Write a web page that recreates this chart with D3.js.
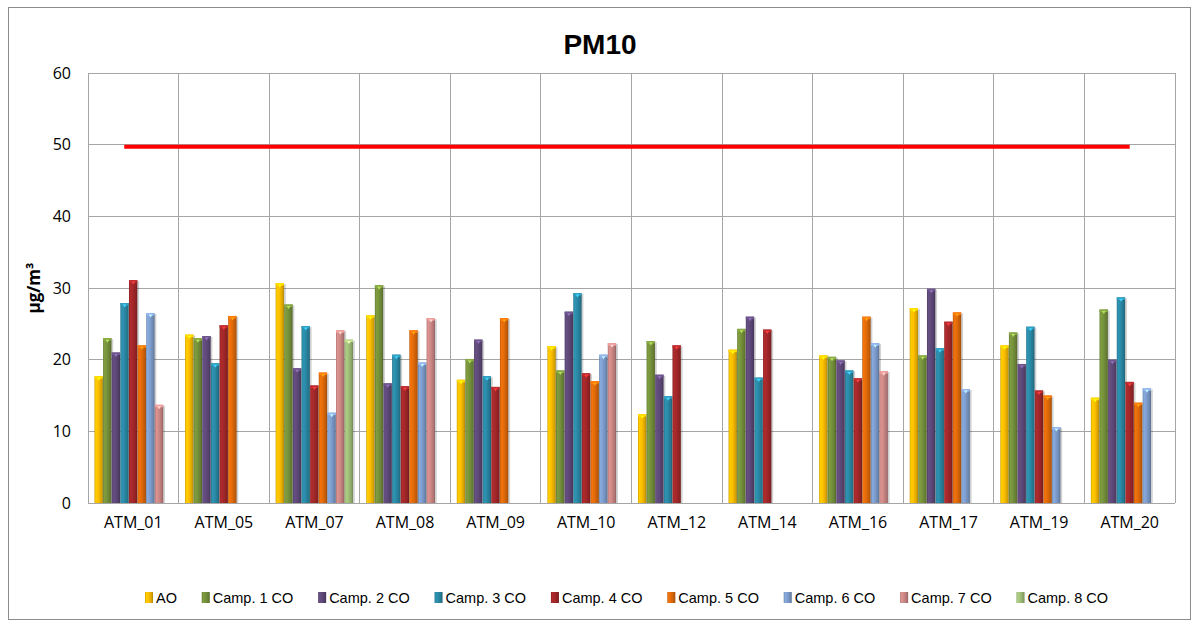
<!DOCTYPE html>
<html>
<head>
<meta charset="utf-8">
<script src="https://cdn.jsdelivr.net/npm/d3@7"></script>
<style>
  html, body { margin: 0; padding: 0; background: #fff; }
  svg { display: block; font-family: "Liberation Sans", Arial, sans-serif; }
</style>
</head>
<body>
<svg id="chart" width="1200" height="626"></svg>
<script>
const categories = ["ATM_01","ATM_05","ATM_07","ATM_08","ATM_09","ATM_10","ATM_12","ATM_14","ATM_16","ATM_17","ATM_19","ATM_20"];
const seriesNames = ["AO","Camp. 1 CO","Camp. 2 CO","Camp. 3 CO","Camp. 4 CO","Camp. 5 CO","Camp. 6 CO","Camp. 7 CO","Camp. 8 CO"];
const seriesColors = ["#FFC000","#77933C","#604A7B","#2B8BA8","#A5282A","#E46C0A","#7F9FD0","#D08A88","#A2C27A"];
// values per series, one per category (null = no bar)
const AO    = [17.7, 23.5, 30.7, 26.2, 17.2, 21.9, 12.4, 21.4, 20.6, 27.2, 22.0, 14.7];
const camp1 = [23.0, 23.0, 27.7, 30.4, 20.1, 18.5, 22.6, 24.3, 20.4, 20.6, 23.8, 27.0];
const camp2 = [21.0, 23.3, 18.8, 16.7, 22.8, 26.7, 17.9, 26.0, 19.9, 29.9, 19.4, 20.0];
const camp3 = [27.9, 19.5, 24.7, 20.7, 17.7, 29.3, 14.9, 17.5, 18.5, 21.6, 24.6, 28.7];
const camp4 = [31.1, 24.8, 16.4, 16.3, 16.2, 18.1, 22.0, 24.2, 17.4, 25.3, 15.7, 16.9];
const camp5 = [22.0, 26.1, 18.2, 24.1, 25.8, 17.0, null, null, 26.0, 26.6, 15.0, 14.0];
const camp6 = [26.5, null, 12.6, 19.6, null, 20.7, null, null, 22.3, 15.9, 10.6, 16.0];
const camp7 = [13.7, null, 24.1, 25.8, null, 22.3, null, null, 18.4, null, null, null];
const camp8 = [null, null, 22.8, null, null, null, null, null, null, null, null, null];
const seriesValues = [AO, camp1, camp2, camp3, camp4, camp5, camp6, camp7, camp8];
const yTicks = [0, 10, 20, 30, 40, 50, 60];
const limitValue = 49.7;

const svg = d3.select("#chart");
const margin = {left: 88, right: 25, top: 73, bottom: 123};
const W = 1200, H = 626;
const pw = W - margin.left - margin.right;
const ph = H - margin.top - margin.bottom;

// outer frame
svg.append("rect").attr("x", 8.5).attr("y", 7.5).attr("width", 1182).attr("height", 612)
  .attr("fill", "#fff").attr("stroke", "#8c8c8c").attr("stroke-width", 1);

const g = svg.append("g").attr("transform", `translate(${margin.left},${margin.top})`);

const x = d3.scaleBand().domain(categories).range([0, pw]).paddingInner(0).paddingOuter(0);
const xs = d3.scaleBand().domain(seriesNames).range([0, x.bandwidth()]).paddingOuter(0.75).paddingInner(0);
const y = d3.scaleLinear().domain([0, 60]).range([ph, 0]);

// gradients
const defs = svg.append("defs");
seriesColors.forEach((c, i) => {
  const base = d3.color(c);
  const grad = defs.append("linearGradient").attr("id", "grad" + i)
    .attr("x1", "0%").attr("x2", "100%").attr("y1", "0%").attr("y2", "0%");
  grad.append("stop").attr("offset", "0%").attr("stop-color", base.darker(0.6));
  grad.append("stop").attr("offset", "15%").attr("stop-color", base.brighter(0.2));
  grad.append("stop").attr("offset", "45%").attr("stop-color", base);
  grad.append("stop").attr("offset", "85%").attr("stop-color", base.darker(0.5));
  grad.append("stop").attr("offset", "100%").attr("stop-color", base.darker(1.1));
});

// gridlines
g.append("g").selectAll("line").data(yTicks).join("line")
  .attr("x1", 0).attr("x2", pw).attr("y1", d => y(d)).attr("y2", d => y(d))
  .attr("stroke", "#a6a6a6").attr("stroke-width", 1).attr("shape-rendering", "crispEdges");
const vlines = categories.map(c => x(c)).concat([pw]);
g.append("g").selectAll("line").data(vlines).join("line")
  .attr("x1", d => d).attr("x2", d => d).attr("y1", 0).attr("y2", ph)
  .attr("stroke", "#a6a6a6").attr("stroke-width", 1).attr("shape-rendering", "crispEdges");

// bars
const barData = [];
seriesValues.forEach((arr, si) => {
  arr.forEach((v, ci) => {
    if (v != null) barData.push({s: si, c: categories[ci], v});
  });
});
const bw = xs.bandwidth();
const bars = g.append("g").selectAll("g").data(barData).join("g")
  .attr("transform", d => `translate(${x(d.c) + xs(seriesNames[d.s])},0)`);
bars.append("rect")
  .attr("x", 1.5).attr("y", d => y(d.v) + 1).attr("width", bw).attr("height", d => ph - y(d.v) - 1)
  .attr("fill", "rgba(0,0,0,0.18)");
bars.append("rect")
  .attr("x", 0).attr("y", d => y(d.v)).attr("width", bw - 0.3).attr("height", d => ph - y(d.v))
  .attr("fill", d => `url(#grad${d.s})`);
bars.append("rect")
  .attr("x", 0).attr("y", d => y(d.v)).attr("width", bw - 0.3).attr("height", 2.5)
  .attr("fill", d => d3.color(seriesColors[d.s]).brighter(0.4));
bars.append("path")
  .attr("d", d => `M${bw*0.28},${y(d.v)+1.5} L${bw*0.72},${y(d.v)+1.5} L${bw*0.5},${y(d.v)+4.5} Z`)
  .attr("fill", d => d3.color(seriesColors[d.s]).brighter(1.2));

// baseline
g.append("line").attr("x1", 0).attr("x2", pw).attr("y1", ph).attr("y2", ph)
  .attr("stroke", "#a6a6a6").attr("shape-rendering", "crispEdges");

// limit line
g.append("line")
  .attr("x1", x(categories[0]) + x.bandwidth() * 0.4)
  .attr("x2", x(categories[categories.length - 1]) + x.bandwidth() * 0.5)
  .attr("y1", y(limitValue)).attr("y2", y(limitValue))
  .attr("stroke", "#FF0000").attr("stroke-width", 4);

// y axis labels
const yAxis = d3.axisLeft(y).tickValues(yTicks).tickSize(0).tickPadding(17);
const ya = g.append("g").call(yAxis);
ya.select(".domain").remove();
ya.selectAll("text").attr("font-size", 16).attr("fill", "#000")
  .attr("font-family", "'Open Sans', Arial, sans-serif");

// x axis labels
const xAxis = d3.axisBottom(x).tickSize(0).tickPadding(14);
const xa = g.append("g").attr("transform", `translate(0,${ph})`).call(xAxis);
xa.select(".domain").remove();
xa.selectAll("text").attr("font-size", 16).attr("fill", "#000")
  .attr("font-family", "'Open Sans', Arial, sans-serif");

// title
svg.append("text").attr("x", 600).attr("y", 54).attr("text-anchor", "middle")
  .attr("font-size", 28).attr("font-weight", "bold").attr("fill", "#000").text("PM10");

// y axis title
svg.append("text").attr("transform", "translate(40,288) rotate(-90)").attr("text-anchor", "middle")
  .attr("font-size", 17).attr("font-weight", "bold").attr("fill", "#000")
  .attr("font-family", "'Open Sans', Arial, sans-serif").text("µg/m³");

// legend: sequential layout
const legend = svg.append("g").attr("transform", "translate(145,598)");
let lx = 0;
seriesNames.forEach((name, i) => {
  const item = legend.append("g").attr("transform", `translate(${lx},0)`);
  item.append("rect").attr("x", 0).attr("y", -6).attr("width", 8).attr("height", 11)
    .attr("fill", `url(#grad${i})`);
  const t = item.append("text").attr("x", 11).attr("y", 5).attr("font-size", 14.5)
    .attr("fill", "#000").text(name);
  lx += 11 + t.node().getComputedTextLength() + 24.8;
});
</script>
</body>
</html>
